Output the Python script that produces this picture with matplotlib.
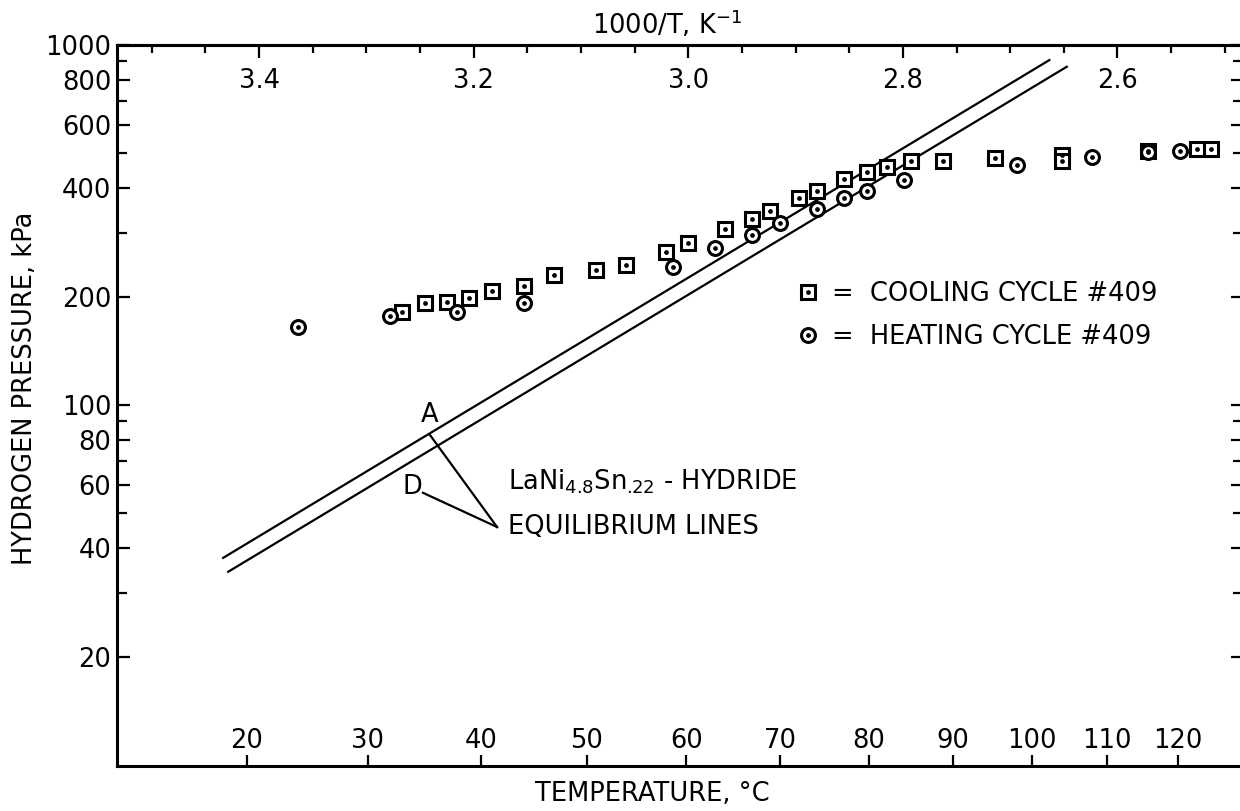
import numpy as np
import matplotlib
matplotlib.use("Agg")
import matplotlib.pyplot as plt
from matplotlib.ticker import FixedLocator, FixedFormatter, NullFormatter
from matplotlib.legend_handler import HandlerTuple

plt.rcParams['font.family'] = ['DejaVu Sans']
plt.rcParams['mathtext.default'] = 'regular'

# ---- measured data: temperature (deg C) and hydrogen pressure (kPa) ----
cool_temp_c = [33.0, 35.0, 36.9, 38.9, 41.0, 44.0, 46.8, 50.9, 53.9, 57.9,
               60.2, 64.0, 66.9, 68.9, 72.1, 74.1, 77.1, 79.8, 82.1, 85.0,
               88.8, 95.3, 104.0, 104.0, 115.7, 122.8, 124.8]
cool_press_kpa = [181, 192, 193, 198, 207, 214, 230, 237, 245, 266,
                  282, 308, 329, 346, 376, 393, 424, 444, 458, 476,
                  476, 485, 495, 476, 508, 514, 514]

heat_temp_c = [24.1, 31.9, 37.8, 44.0, 58.6, 63.0, 66.9, 70.0, 74.1, 77.1,
               79.8, 84.1, 98.1, 108.0, 115.7, 120.3]
heat_press_kpa = [165, 177, 181, 192, 242, 273, 297, 320, 350, 376,
                  393, 422, 464, 489, 505, 508]

# equilibrium lines (end points)
line_a_temp_c = [18.1, 102.3]
line_a_press_kpa = [37.6, 908]
line_d_temp_c = [18.5, 104.6]
line_d_press_kpa = [34.4, 870]

# axis ticks
temp_ticks_c = [20, 30, 40, 50, 60, 70, 80, 90, 100, 110, 120]
inv_major_ticks = [3.4, 3.2, 3.0, 2.8, 2.6]
inv_minor_ticks = [3.5, 3.45, 3.35, 3.3, 3.25, 3.15, 3.1, 3.05, 2.95, 2.9,
                   2.85, 2.75, 2.7, 2.65, 2.55, 2.5]
p_major_ticks = [20, 40, 60, 80, 100, 200, 400, 600, 800, 1000]
p_minor_ticks = [30, 50, 70, 90, 300, 500, 700, 900]


def inv_t(tc):
    return 1000.0 / (np.asarray(tc, dtype=float) + 273.15)


FS = 18.5
W, H = 1240, 811
fig = plt.figure(figsize=(W / 100, H / 100), dpi=100)
L, R, T, B = 117, 1243, 45, 766
ax = fig.add_axes([L / W, (H - B) / H, (R - L) / W, (B - T) / H])

ax.set_yscale('log')
ax.set_xlim(3.5324, 2.4830)
ax.set_ylim(9.93, 1000)

# equilibrium lines
ax.plot(inv_t(line_a_temp_c), line_a_press_kpa, color='black', lw=1.6)
ax.plot(inv_t(line_d_temp_c), line_d_press_kpa, color='black', lw=1.6)

# data points: open squares / circles with a centre dot
sq = ax.plot(inv_t(cool_temp_c), cool_press_kpa, ls='none', marker='s',
             ms=9.5, mfc='white', mec='black', mew=2.2, zorder=3)[0]
sq_dot = ax.plot(inv_t(cool_temp_c), cool_press_kpa, ls='none', marker='o',
                 ms=2.4, color='black', zorder=4)[0]
ci = ax.plot(inv_t(heat_temp_c), heat_press_kpa, ls='none', marker='o',
             ms=10, mfc='white', mec='black', mew=2.2, zorder=3)[0]
ci_dot = ax.plot(inv_t(heat_temp_c), heat_press_kpa, ls='none', marker='o',
                 ms=2.4, color='black', zorder=4)[0]

# y axis
ax.yaxis.set_major_locator(FixedLocator(p_major_ticks))
ax.yaxis.set_major_formatter(FixedFormatter([str(p) for p in p_major_ticks]))
ax.yaxis.set_minor_locator(FixedLocator(p_minor_ticks))
ax.yaxis.set_minor_formatter(NullFormatter())
ax.tick_params(axis='y', which='both', direction='in', left=True, right=True,
               labelsize=FS, width=1.6, pad=4)
ax.tick_params(axis='y', which='major', length=9)
ax.tick_params(axis='y', which='minor', length=7)

# bottom axis: temperature labels inside the frame
ax.xaxis.set_major_locator(FixedLocator(inv_t(temp_ticks_c)))
ax.xaxis.set_major_formatter(FixedFormatter([str(t) for t in temp_ticks_c]))
ax.xaxis.set_minor_locator(FixedLocator([]))
ax.tick_params(axis='x', which='major', direction='in', top=False,
               length=8, width=1.6, labelsize=FS, pad=-27)

# top axis: 1000/T labels inside the frame
sec = ax.secondary_xaxis('top')
sec.xaxis.set_major_locator(FixedLocator(inv_major_ticks))
sec.xaxis.set_major_formatter(FixedFormatter([f"{v:.1f}" for v in inv_major_ticks]))
sec.xaxis.set_minor_locator(FixedLocator(inv_minor_ticks))
sec.tick_params(axis='x', which='both', direction='in', width=1.6,
                labelsize=FS, pad=-35)
sec.tick_params(axis='x', which='major', length=9)
sec.tick_params(axis='x', which='minor', length=6)

for s in list(ax.spines.values()) + list(sec.spines.values()):
    s.set_linewidth(2.2)

# annotations for the equilibrium lines
ax.text(3.2407, 93.5, 'A', fontsize=FS, ha='center', va='center')
ax.text(3.2574, 59.2, 'D', fontsize=FS, ha='center', va='center')
ax.plot([3.2407, 3.1782], [82.5, 45.8], color='black', lw=1.6)
ax.plot([3.2472, 3.1782], [57.0, 45.8], color='black', lw=1.6)
ax.text(3.1680, 61.0, r'LaNi$_{\text{4.8}}$Sn$_{\text{.22}}$ - HYDRIDE',
        fontsize=FS, ha='left', va='center')
ax.text(3.1680, 45.8, 'EQUILIBRIUM LINES', fontsize=FS, ha='left', va='center')

# legend
leg = ax.legend([(sq, sq_dot), (ci, ci_dot)],
                ['=  COOLING CYCLE #409', '=  HEATING CYCLE #409'],
                handler_map={tuple: HandlerTuple(ndivide=1)},
                loc='upper left', bbox_to_anchor=(0.603, 0.672),
                frameon=False, fontsize=FS, handlelength=0.9,
                handletextpad=0.5, labelspacing=0.65, borderpad=0,
                borderaxespad=0)

# axis titles
fig.text(667 / W, 1 - 24 / H, r'1000/T, K$^{-1}$', fontsize=FS,
         ha='center', va='center')
fig.text(652 / W, 1 - 794 / H, 'TEMPERATURE, °C', fontsize=FS,
         ha='center', va='center')
fig.text(25 / W, 1 - 388 / H, 'HYDROGEN PRESSURE, kPa', fontsize=FS,
         ha='center', va='center', rotation=90)

fig.savefig('out.png', dpi=100)
